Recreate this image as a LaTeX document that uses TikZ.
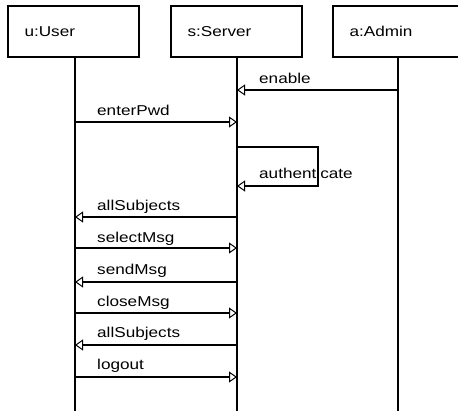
\documentclass[tikz,border=0pt]{standalone}
\usepackage{fontspec}
\setmainfont[FakeStretch=1.2]{Liberation Sans}
\usetikzlibrary{arrows.meta}
\tikzset{
	obj/.style={draw, line width=1.2pt, minimum width=131pt, minimum height=51pt, text width=98pt, align=left, inner sep=0pt},
	life/.style={line width=2.6pt},
	msg/.style={line width=2.2pt, -{Triangle[open, length=8pt, width=11pt, line width=1pt]}},
	lbl/.style={anchor=base west, inner sep=0pt}
}
\begin{document}
\begin{tikzpicture}[x=1pt, y=-1pt, font=\fontsize{14.3}{16}\selectfont]
				\useasboundingbox (0,0) rectangle (458,410);
				\clip (0,0) rectangle (458,410);
				% Objects
				\node [obj] (user) at (73.5,31.5) {u:User};
				\node [obj] (server) at (236.5,31.5) {s:Server};
				\node [obj] (admin) at (398.5,31.5) {a:Admin};
				% Lifelines
				\coordinate (uend) at (75,412);
				\coordinate (send) at (237,412);
				\coordinate (aend) at (398,412);
				\draw [life] (75,57) -- (uend);
				\draw [life] (237,57) -- (send);
				\draw [life] (398,57) -- (aend);
				% Messages
				\coordinate (a1) at (398,90);   \coordinate (s1) at (237,90);
				\draw [msg] (a1) -- (s1);
				\node [lbl] at (259,83) {enable};
				\coordinate (u2) at (75,122);   \coordinate (s2) at (237,122);
				\draw [msg] (u2) -- (s2);
				\node [lbl] at (97,115) {enterPwd};
				% Self call
				\coordinate (s3) at (237,147);  \coordinate (s4) at (237,186);
				\draw [msg] (s3) -- (318,147) -- (318,186) -- (s4);
				\node [lbl] at (259,178) {authenticate};
				\coordinate (s5) at (237,217);  \coordinate (u5) at (75,217);
				\draw [msg] (s5) -- (u5);
				\node [lbl] at (97,210) {allSubjects};
				\coordinate (u6) at (75,248);   \coordinate (s6) at (237,248);
				\draw [msg] (u6) -- (s6);
				\node [lbl] at (97,242) {selectMsg};
				\coordinate (s7) at (237,282);  \coordinate (u7) at (75,282);
				\draw [msg] (s7) -- (u7);
				\node [lbl] at (97,274) {sendMsg};
				\coordinate (u8) at (75,313);   \coordinate (s8) at (237,313);
				\draw [msg] (u8) -- (s8);
				\node [lbl] at (97,306) {closeMsg};
				\coordinate (s9) at (237,345);  \coordinate (u9) at (75,345);
				\draw [msg] (s9) -- (u9);
				\node [lbl] at (97,337) {allSubjects};
				\coordinate (u10) at (75,377);  \coordinate (s10) at (237,377);
				\draw [msg] (u10) -- (s10);
				\node [lbl] at (97,369) {logout};
			\end{tikzpicture}
\end{document}
